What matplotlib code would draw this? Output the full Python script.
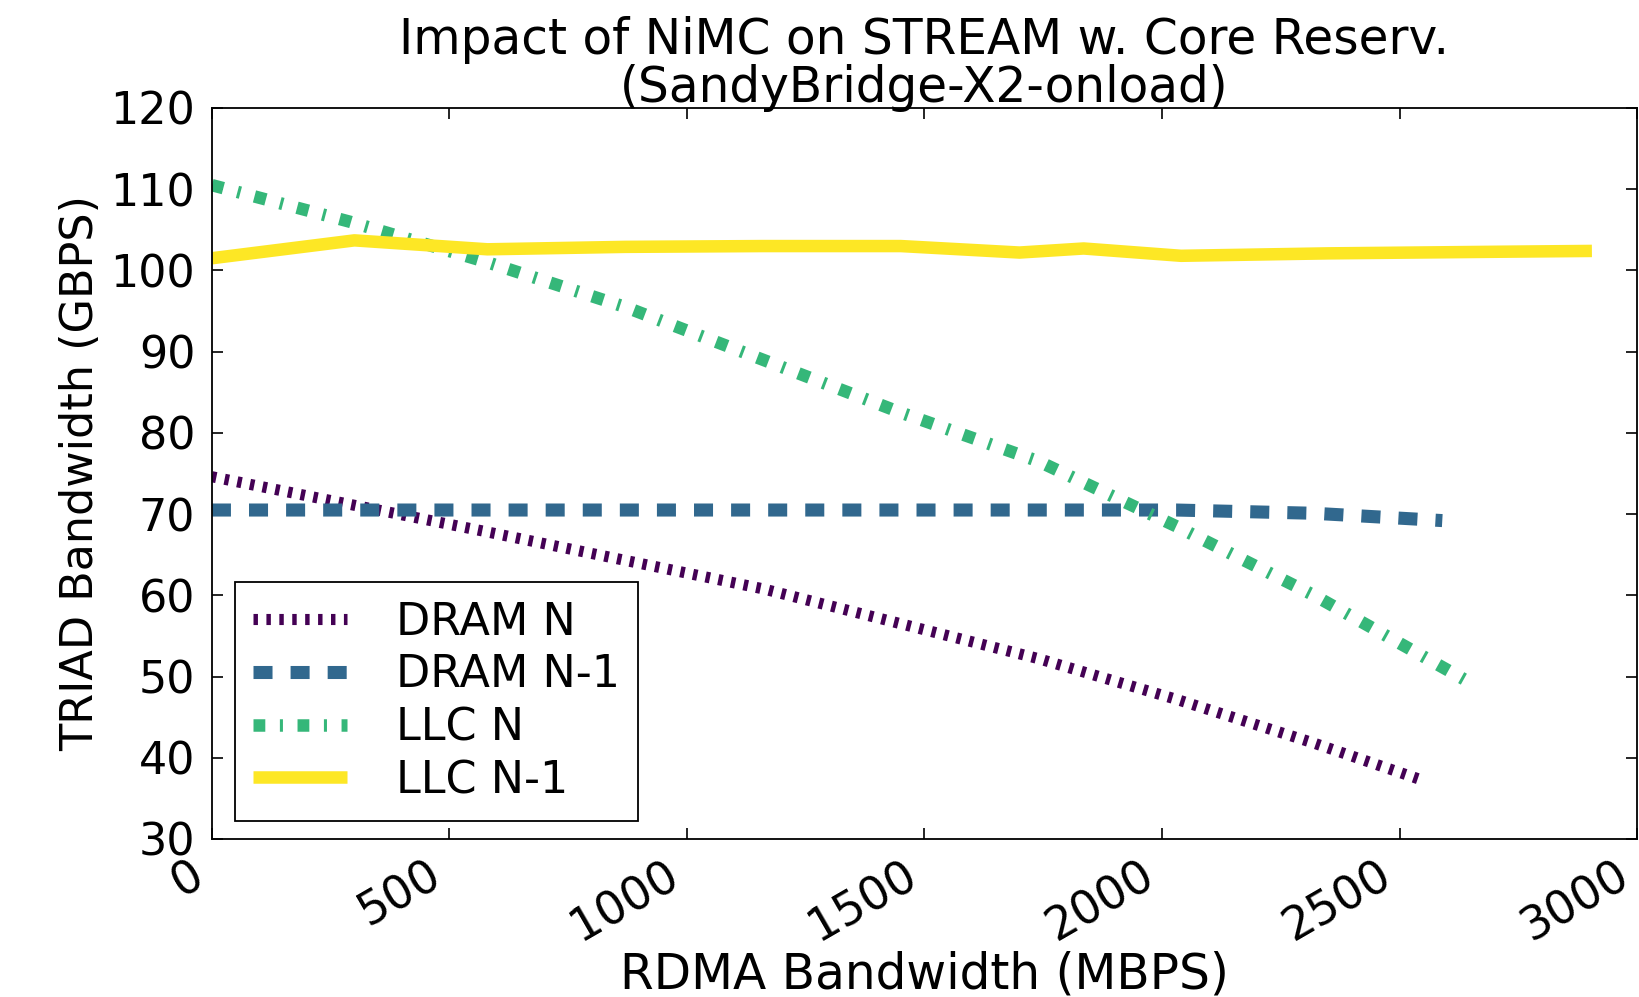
"""Recreate the NiMC / STREAM core-reservation line chart (out.png)."""

from __future__ import annotations

import matplotlib

matplotlib.use("Agg")
import matplotlib.pyplot as plt


OUT_PATH = "out.png"

# Measured RDMA bandwidth (MBPS) per series and TRIAD bandwidth (GBPS).
DRAM_N_X = [0, 290, 580, 870, 1160, 1450, 1740, 2030, 2320, 2550]
DRAM_N_Y = [74.6, 71.2, 67.8, 64.3, 60.8, 56.5, 52.2, 47.2, 41.8, 37.2]

DRAM_N1_X = [0, 290, 580, 870, 1160, 1450, 1740, 2030, 2320, 2590]
DRAM_N1_Y = [70.5, 70.5, 70.5, 70.5, 70.5, 70.5, 70.5, 70.5, 70.1, 69.2]

LLC_N_X = [0, 290, 580, 870, 1160, 1450, 1740, 2030, 2320, 2650]
LLC_N_Y = [110.5, 106.0, 101.0, 95.5, 89.0, 82.5, 76.5, 68.5, 60.0, 49.2]

LLC_N1_X = [0, 300, 580, 870, 1160, 1450, 1700, 1835, 2040, 2350, 2710, 2905]
LLC_N1_Y = [101.5, 103.7, 102.6, 102.9, 103.0, 103.0, 102.2, 102.7, 101.8, 102.1, 102.3, 102.4]

LABELS = ["DRAM N", "DRAM N-1", "LLC N", "LLC N-1"]
X_TICKS = [0, 500, 1000, 1500, 2000, 2500, 3000]
Y_TICKS = [30, 40, 50, 60, 70, 80, 90, 100, 110, 120]

# viridis picks, as in the original
COL_DRAM_N = "#440154"
COL_DRAM_N1 = "#31688e"
COL_LLC_N = "#35b779"
COL_LLC_N1 = "#fde725"


def main() -> None:
    plt.rcParams["font.family"] = "DejaVu Sans"
    plt.rcParams["lines.scale_dashes"] = False

    fig = plt.figure(figsize=(16.39, 9.97), dpi=100)
    ax = fig.add_axes([0.1293, 0.1585, 0.8695, 0.7332])

    ax.plot(DRAM_N_X, DRAM_N_Y, color=COL_DRAM_N, lw=8.0,
            linestyle=(0, (3.2, 6.1)), dash_capstyle="butt", label=LABELS[0])
    ax.plot(DRAM_N1_X, DRAM_N1_Y, color=COL_DRAM_N1, lw=9.4,
            linestyle=(0, (13.7, 13.0)), dash_capstyle="butt", label=LABELS[1])
    ax.plot(LLC_N_X, LLC_N_Y, color=COL_LLC_N, lw=9.0,
            linestyle=(0, (8.5, 10.5, 2.2, 10.5)), dash_capstyle="butt", label=LABELS[2])
    ax.plot(LLC_N1_X, LLC_N1_Y, color=COL_LLC_N1, lw=9.0,
            solid_capstyle="butt", label=LABELS[3])

    ax.set_xlim(0, 3000)
    ax.set_ylim(30, 120)
    ax.set_xticks(X_TICKS)
    ax.set_yticks(Y_TICKS)
    ax.set_xticklabels([str(t) for t in X_TICKS], rotation=30, ha="right",
                       fontsize=33)
    ax.set_yticklabels([str(t) for t in Y_TICKS], fontsize=32)
    ax.tick_params(direction="in", length=8, width=1.2, top=True, right=True)
    ax.tick_params(axis="y", pad=12)
    ax.tick_params(axis="x", pad=10)
    for s in ax.spines.values():
        s.set_linewidth(1.3)

    ax.set_xlabel("RDMA Bandwidth (MBPS)", fontsize=35, labelpad=0)
    ax.set_ylabel("TRIAD Bandwidth (GBPS)", fontsize=32, labelpad=6)
    ax.set_title("Impact of NiMC on STREAM w. Core Reserv.\n(SandyBridge-X2-onload)",
                 fontsize=35, pad=4, linespacing=1.0)

    leg = ax.legend(loc="lower left", bbox_to_anchor=(0.016, 0.025),
                    borderaxespad=0, fontsize=32, handlelength=2.1,
                    handletextpad=1.1, labelspacing=0.22, borderpad=0.42,
                    fancybox=False, framealpha=1)
    leg.get_frame().set_edgecolor("black")
    leg.get_frame().set_linewidth(1.3)

    fig.savefig(OUT_PATH, dpi=100)
    plt.close(fig)


if __name__ == "__main__":
    main()
